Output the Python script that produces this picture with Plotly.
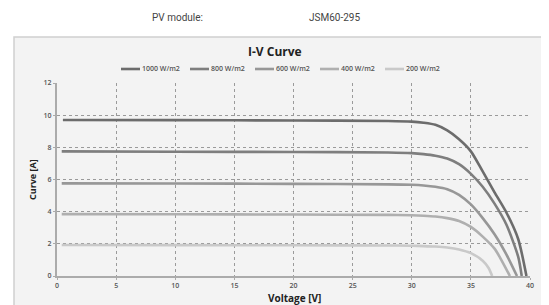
import plotly.graph_objects as go

# ---- data ----
series_names = ["1000 W/m2", "800 W/m2", "600 W/m2", "400 W/m2", "200 W/m2"]
series_colors = ["#6c6c6c", "#7e7e7e", "#979797", "#afafaf", "#c9c9c9"]

v_1000 = [0.5, 10, 20, 28, 30, 31, 32, 33, 34, 35, 36, 37, 38, 39, 39.7]
i_1000 = [9.70, 9.69, 9.67, 9.64, 9.60, 9.53, 9.40, 9.05, 8.50, 7.75, 6.50, 5.20, 3.95, 2.30, 0.0]

v_800 = [0.4, 10, 20, 28, 30, 31, 32, 33, 34, 35, 36, 37, 38, 39, 39.3]
i_800 = [7.75, 7.73, 7.71, 7.68, 7.64, 7.58, 7.48, 7.30, 6.95, 6.35, 5.55, 4.50, 3.20, 1.20, 0.0]

v_600 = [0.4, 10, 20, 28, 30, 31, 32, 33, 34, 35, 36, 37, 38, 38.9]
i_600 = [5.76, 5.75, 5.73, 5.70, 5.67, 5.63, 5.55, 5.40, 5.05, 4.45, 3.60, 2.60, 1.35, 0.0]

v_400 = [0.4, 10, 20, 28, 30, 31, 32, 33, 34, 35, 36, 37, 37.5, 38.3]
i_400 = [3.85, 3.84, 3.82, 3.80, 3.78, 3.75, 3.70, 3.60, 3.42, 3.05, 2.45, 1.70, 1.10, 0.0]

v_200 = [0.4, 10, 20, 28, 30, 31, 32, 33, 34, 35, 36, 36.5, 36.8]
i_200 = [1.93, 1.92, 1.91, 1.90, 1.88, 1.86, 1.83, 1.77, 1.65, 1.42, 0.95, 0.50, 0.0]

series_v = [v_1000, v_800, v_600, v_400, v_200]
series_i = [i_1000, i_800, i_600, i_400, i_200]

x_ticks = [0, 5, 10, 15, 20, 25, 30, 35, 40]
y_ticks = [0, 2, 4, 6, 8, 10, 12]

# ---- figure geometry (page has an 8px body margin) ----
OFF = 8
W, H = 549 - OFF, 305 - OFF
PL, PR, PT, PB = 57, 530, 83, 276          # plot area in window pixels
L, R, T, B = PL - OFF, W - (PR - OFF), PT - OFF, H - (PB - OFF)
PW, PH = PR - PL, PB - PT


def px(x):
    return (x - PL) / PW


def py(y):
    return (PB - y) / PH


fig = go.Figure()
for name, color, vv, ii in zip(series_names, series_colors, series_v, series_i):
    fig.add_trace(go.Scatter(x=vv, y=ii, mode="lines", name=name,
                             line=dict(color=color, width=2.6, shape="spline", smoothing=0.7),
                             showlegend=False, hoverinfo="skip"))

shapes = [
    dict(type="rect", xref="paper", yref="paper", x0=px(14), x1=px(542), y0=py(320), y1=py(37),
         line=dict(color="#d0d0d0", width=1.5), fillcolor="#f3f3f3", layer="below"),
]


def label(text, x, y, size, color, weight=400, family="Open Sans", xanchor="center", angle=0):
    return dict(text=text, x=px(x), y=py(y), xref="paper", yref="paper", showarrow=False,
                xanchor=xanchor, yanchor="middle", textangle=angle,
                font=dict(family=family, size=size, color=color, weight=weight))


annotations = [
    label("PV module:", 177, 18, 10, "#444", family="Roboto"),
    label("JSM60-295", 334, 18, 10, "#444", family="Roboto"),
    label("I-V Curve", 275, 51, 12, "#222", weight=700),
    label("Voltage [V]", 294, 298, 10, "#222", weight=700),
    label("Curve [A]", 32, 180, 9, "#222", weight=700, angle=-90),
]

# manual legend
leg_line_x = [121, 190, 255, 320, 385]
for name, color, lx in zip(series_names, series_colors, leg_line_x):
    shapes.append(dict(type="line", xref="paper", yref="paper", x0=px(lx), x1=px(lx + 19),
                       y0=py(69), y1=py(69), line=dict(color=color, width=2.6)))
    annotations.append(label(name, lx + 19, 69, 7, "#555", weight=600, xanchor="left"))

axis_common = dict(showgrid=True, gridcolor="#9a9a9a", griddash="dot", gridwidth=1,
                   zeroline=False, showline=True, linecolor="#ababab", linewidth=2,
                   ticks="outside", ticklen=2, tickcolor="#ababab", automargin=False,
                   tickfont=dict(family="Open Sans", size=7, color="#555", weight=600))

fig.update_layout(
    width=W, height=H, margin=dict(l=L, r=R, t=T, b=B, pad=0),
    paper_bgcolor="white", plot_bgcolor="#f3f3f3",
    shapes=shapes, annotations=annotations,
    xaxis=dict(range=[0, 40], tickvals=x_ticks, ticktext=[str(t) for t in x_ticks],
               **axis_common),
    yaxis=dict(range=[0, 12], tickvals=y_ticks, ticktext=[str(t) for t in y_ticks],
               **axis_common),
)

fig.write_html("out.html")
